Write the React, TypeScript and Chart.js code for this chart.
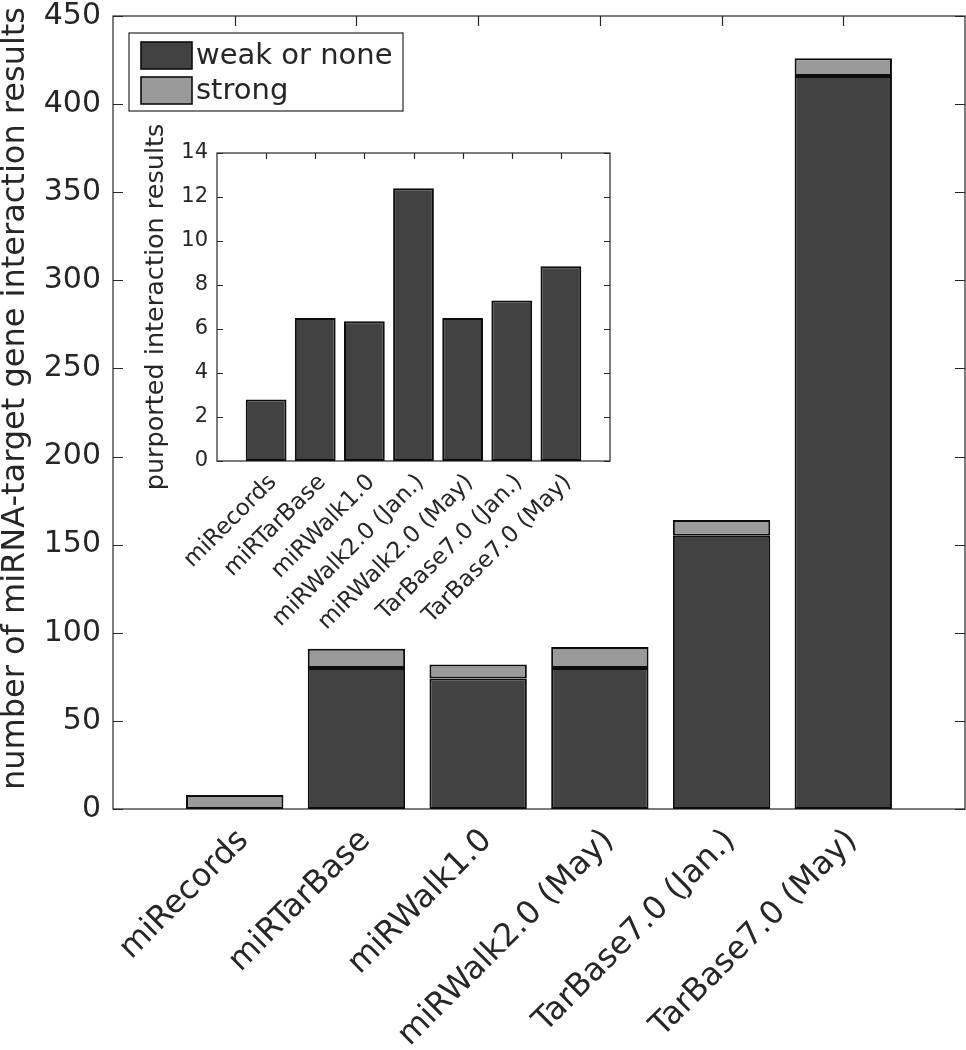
import React, { useEffect, useRef } from 'react';
import { Chart, registerables } from 'chart.js';

Chart.register(...registerables);

// ---------- data ----------
const categories = [
  'miRecords',
  'miRTarBase',
  'miRWalk1.0',
  'miRWalk2.0 (May)',
  'TarBase7.0 (Jan.)',
  'TarBase7.0 (May)',
];
const weakOrNone = [0, 80, 74, 80, 155, 416];
const strong = [8, 11, 8, 12, 9, 10];
const seriesLabels = ['weak or none', 'strong'];
const mainYLabel = 'number of miRNA-target gene interaction results';

const insetCategories = [
  'miRecords',
  'miRTarBase',
  'miRWalk1.0',
  'miRWalk2.0 (Jan.)',
  'miRWalk2.0 (May)',
  'TarBase7.0 (Jan.)',
  'TarBase7.0 (May)',
];
const purported = [2.8, 6.5, 6.35, 12.4, 6.5, 7.3, 8.85];
const insetYLabel = 'purported interaction results';

// ---------- styles ----------
const FONT = "'DejaVu Sans', 'Liberation Sans', Arial, sans-serif";
const AXIS = '#262626';
const DARK = '#424242';
const LIGHT = '#9a9a9a';
const EDGE = '#0d0d0d';
const BAR_BORDER = 2;

const pad = <T,>(arr: T[], fill: T): T[] => [fill, ...arr, fill];

const framePlugin = {
  id: 'frame',
  beforeDatasetsDraw(chart: any, _args: any, opts: any) {
    const { ctx, chartArea, scales } = chart;
    const { left, right, top, bottom } = chartArea;
    const len = opts.tickLength ?? 8;
    ctx.save();
    ctx.strokeStyle = AXIS;
    ctx.lineWidth = 1.2;
    ctx.strokeRect(left, top, right - left, bottom - top);
    const y = scales.y;
    y.ticks.forEach((_t: any, i: number) => {
      const py = Math.round(y.getPixelForTick(i)) + 0.5;
      ctx.beginPath();
      ctx.moveTo(left, py);
      ctx.lineTo(left + len, py);
      ctx.moveTo(right, py);
      ctx.lineTo(right - len, py);
      ctx.stroke();
    });
    const x = scales.x;
    x.ticks.forEach((t: any, i: number) => {
      if (!x.getLabelForValue(t.value)) return;
      const px = Math.round(x.getPixelForTick(i)) + 0.5;
      ctx.beginPath();
      ctx.moveTo(px, top);
      ctx.lineTo(px, top + len);
      ctx.moveTo(px, bottom);
      ctx.lineTo(px, bottom - len);
      ctx.stroke();
    });
    ctx.restore();
  },
};

// Y-axis title placed at a given centre (MATLAB puts it slightly above the axis middle)
const yTitlePlugin = {
  id: 'yTitle',
  afterDraw(chart: any, _args: any, opts: any) {
    if (!opts || !opts.text) return;
    const { ctx, chartArea } = chart;
    const cy = (chartArea.top + chartArea.bottom) / 2 + (opts.shift ?? 0);
    ctx.save();
    ctx.translate(opts.x, cy);
    ctx.rotate(-Math.PI / 2);
    ctx.fillStyle = AXIS;
    ctx.font = `${opts.size}px ${FONT}`;
    ctx.textAlign = 'center';
    ctx.textBaseline = 'middle';
    ctx.fillText(opts.text, 0, 0);
    ctx.restore();
  },
};

const legendBoxPlugin = {
  id: 'legendBox',
  afterDraw(chart: any, _args: any, opts: any) {
    if (!opts || !opts.enabled) return;
    const { ctx, chartArea } = chart;
    const x = chartArea.left + 16;
    const y = chartArea.top + 17;
    const w = 274;
    const h = 78;
    ctx.save();
    ctx.fillStyle = '#ffffff';
    ctx.fillRect(x, y, w, h);
    ctx.strokeStyle = AXIS;
    ctx.lineWidth = 1.2;
    ctx.strokeRect(x, y, w, h);
    chart.data.datasets.forEach((ds: any, i: number) => {
      const sy = y + 9 + i * 35;
      ctx.fillStyle = ds.backgroundColor;
      ctx.fillRect(x + 12, sy, 51, 27);
      ctx.strokeStyle = EDGE;
      ctx.lineWidth = 1.6;
      ctx.strokeRect(x + 12, sy, 51, 27);
      ctx.fillStyle = AXIS;
      ctx.font = `29px ${FONT}`;
      ctx.textBaseline = 'middle';
      ctx.textAlign = 'left';
      ctx.fillText(ds.label, x + 67, sy + 14);
    });
    ctx.restore();
  },
};

const fixX = (h: number) => (s: any) => {
  s.height = h;
  s.paddingLeft = 0;
  s.paddingRight = 0;
};
const fixY = (w: number) => (s: any) => {
  s.width = w;
  s.paddingTop = 0;
  s.paddingBottom = 0;
};

export default function App() {
  const mainRef = useRef<HTMLCanvasElement | null>(null);
  const insetRef = useRef<HTMLCanvasElement | null>(null);

  useEffect(() => {
    if (!mainRef.current || !insetRef.current) return;

    const main = new Chart(mainRef.current, {
      type: 'bar',
      data: {
        labels: pad(categories, ''),
        datasets: [
          {
            label: seriesLabels[0],
            data: pad<number | null>(weakOrNone, null),
            backgroundColor: DARK,
            borderColor: EDGE,
            borderWidth: BAR_BORDER,
            borderSkipped: false,
            barPercentage: 0.8,
            categoryPercentage: 1,
          },
          {
            label: seriesLabels[1],
            data: pad<number | null>(strong, null),
            backgroundColor: LIGHT,
            borderColor: EDGE,
            borderWidth: BAR_BORDER,
            borderSkipped: false,
            barPercentage: 0.8,
            categoryPercentage: 1,
          },
        ],
      },
      options: {
        responsive: false,
        animation: false,
        events: [],
        layout: { padding: { left: 0, right: 1, top: 16, bottom: 0 } },
        plugins: {
          legend: { display: false },
          tooltip: { enabled: false },
          frame: { tickLength: 10 },
          legendBox: { enabled: true },
          yTitle: { text: mainYLabel, x: 16, size: 32, shift: -14 },
        } as any,
        scales: {
          x: {
            type: 'category',
            offset: false,
            stacked: true,
            grid: { display: false, drawTicks: false },
            border: { display: false },
            ticks: {
              autoSkip: false,
              minRotation: 45,
              maxRotation: 45,
              padding: 13,
              labelOffset: 9,
              color: AXIS,
              font: { family: FONT, size: 32 },
            },
            afterFit: fixX(241),
          },
          y: {
            stacked: true,
            min: 0,
            max: 450,
            grid: { display: false, drawTicks: false },
            border: { display: false },
            ticks: {
              stepSize: 50,
              padding: 12,
              color: AXIS,
              font: { family: FONT, size: 30 },
            },
            afterFit: fixY(113),
          },
        },
      },
      plugins: [framePlugin, legendBoxPlugin, yTitlePlugin],
    } as any);

    const inset = new Chart(insetRef.current, {
      type: 'bar',
      data: {
        labels: pad(insetCategories, ''),
        datasets: [
          {
            label: insetYLabel,
            data: pad<number | null>(purported, null),
            backgroundColor: DARK,
            borderColor: EDGE,
            borderWidth: BAR_BORDER,
            borderSkipped: false,
            barPercentage: 0.83,
            categoryPercentage: 1,
          },
        ],
      },
      options: {
        responsive: false,
        animation: false,
        events: [],
        layout: { padding: { left: 24, right: 40, top: 33, bottom: 0 } },
        plugins: {
          legend: { display: false },
          tooltip: { enabled: false },
          frame: { tickLength: 6 },
        } as any,
        scales: {
          x: {
            type: 'category',
            offset: false,
            grid: { display: false, drawTicks: false },
            border: { display: false },
            ticks: {
              autoSkip: false,
              minRotation: 45,
              maxRotation: 45,
              padding: 8,
              labelOffset: 7,
              color: AXIS,
              font: { family: FONT, size: 23 },
            },
            afterFit: fixX(199),
          },
          y: {
            min: 0,
            max: 14,
            grid: { display: false, drawTicks: false },
            border: { display: false },
            ticks: {
              stepSize: 2,
              padding: 9,
              color: AXIS,
              font: { family: FONT, size: 21 },
            },
            title: {
              display: true,
              text: insetYLabel,
              color: AXIS,
              padding: { top: 0, bottom: 0 },
              font: { family: FONT, size: 25.5, lineHeight: 1 },
            },
            afterFit: fixY(73),
          },
        },
      },
      plugins: [framePlugin],
    } as any);

    return () => {
      main.destroy();
      inset.destroy();
    };
  }, []);

  return (
    <div
      style={{
        position: 'absolute',
        left: 0,
        top: 0,
        width: 966,
        height: 1050,
        background: '#ffffff',
      }}
    >
      <canvas
        ref={mainRef}
        width={966}
        height={1050}
        style={{ position: 'absolute', left: 0, top: 0, width: 966, height: 1050 }}
      />
      <canvas
        ref={insetRef}
        width={530}
        height={540}
        style={{ position: 'absolute', left: 120, top: 120, width: 530, height: 540 }}
      />
    </div>
  );
}
